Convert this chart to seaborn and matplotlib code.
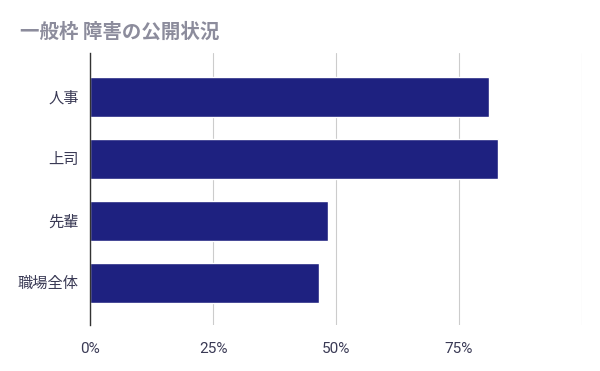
import matplotlib
matplotlib.use("Agg")
import matplotlib.pyplot as plt
import seaborn as sns
import pandas as pd
from matplotlib.ticker import FuncFormatter

categories = ["人事", "上司", "先輩", "職場全体"]
values = [81.0, 82.9, 48.3, 46.5]
xticks = [0, 25, 50, 75, 100]
title = "一般枠 障害の公開状況"

sns.set_theme(style="white")
plt.rcParams['font.family'] = ['Roboto', 'Noto Sans CJK JP', 'DejaVu Sans']

df = pd.DataFrame({"cat": categories, "val": values})

fig = plt.figure(figsize=(6.0, 3.71), dpi=100)
ax = fig.add_axes([0.15, 0.124, 0.82, 0.733])

sns.barplot(data=df, y="cat", x="val", orient="h", color="#1e2180",
            saturation=1, width=0.645, ax=ax, zorder=3)

ax.set_xlim(0, 100)
ax.set_ylim(3.68, -0.705)
ax.set_xticks(xticks)
ax.xaxis.set_major_formatter(FuncFormatter(lambda v, p: "" if v == 100 else f"{int(v)}%"))
ax.grid(axis="x", color="#cccccc", linewidth=0.8, zorder=0)
ax.grid(axis="y", visible=False)
for s in ["top", "right", "bottom"]:
    ax.spines[s].set_visible(False)
ax.spines["left"].set_color("#333333")
ax.spines["left"].set_linewidth(1)
ax.spines["left"].set_zorder(4)
ax.set_xlabel("")
ax.set_ylabel("")
ax.tick_params(axis="x", length=0, pad=12, labelsize=11, labelcolor="#3a3a55")
ax.tick_params(axis="y", length=0, pad=8, labelsize=11, labelcolor="#3a3a55")

fig.text(0.033, 0.913, title, fontsize=14, fontweight="bold", color="#8c8c9c",
         ha="left", va="center", family=['Noto Sans CJK JP', 'DejaVu Sans'])

fig.savefig("out.png", dpi=100, facecolor="white")
